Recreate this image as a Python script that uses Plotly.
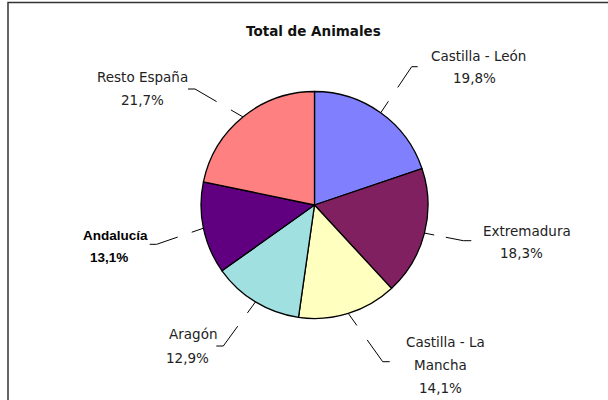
import math
import plotly.graph_objects as go

# ---- data ----
categories = ["Castilla - León", "Extremadura", "Castilla - La Mancha",
              "Aragón", "Andalucía", "Resto España"]
values = [19.8, 18.3, 14.1, 12.9, 13.1, 21.7]
label_lines = [["Castilla - León"], ["Extremadura"], ["Castilla - La", "Mancha"],
               ["Aragón"], ["Andalucía"], ["Resto España"]]
bold_flags = [False, False, False, False, True, False]
colors = ["#8080FF", "#802060", "#FFFFC0", "#A0E0E0", "#600080", "#FF8080"]
title_text = "Total de Animales"

# ---- layout (pixels) ----
W, H = 608, 400
CX, CY, R = 314.5, 205.0, 113.5
label_pos = [
    [(478.5, 56)], [(526.5, 231)], [(445, 342), (440, 365)],
    [(192.5, 334)], [(115, 235)], [(142.7, 77)],
]
pct_pos = [(474, 78), (521.5, 253), (440, 388), (187.5, 358), (109, 257), (142.5, 100.5)]
bend_pos = [(411.7, 66.7), (463.3, 240.7), (382.7, 361.7),
            (223.3, 346), (156.7, 244.3), (195, 89)]
tail_dx = [6, 8, 7, -7, -7, -7]

def px(x):
    return x / W

def py(y):
    return 1 - y / H

fig = go.Figure(go.Pie(
    labels=categories, values=values, sort=False, direction="clockwise",
    rotation=0, marker=dict(colors=colors, line=dict(color="black", width=1.3)),
    textinfo="none", hoverinfo="label+percent", showlegend=False,
    domain=dict(x=[px(CX - R), px(CX + R)], y=[py(CY + R), py(CY - R)]),
))

shapes = []
annotations = []
total = sum(values)
cum = 0.0
for i, v in enumerate(values):
    mid = (cum + v / 2) / total * 2 * math.pi
    cum += v
    ex = CX + R * math.sin(mid)
    ey = CY - R * math.cos(mid)
    bx, by = bend_pos[i]
    def lerp(t):
        return ex + (bx - ex) * t, ey + (by - ey) * t
    a0, a1 = lerp(0.0), lerp(0.25)
    b0, b1 = lerp(0.55), lerp(1.0)
    for (p0, p1) in [(a0, a1), (b0, b1), ((bx, by), (bx + tail_dx[i], by))]:
        shapes.append(dict(type="line", xref="paper", yref="paper",
                           x0=px(p0[0]), y0=py(p0[1]), x1=px(p1[0]), y1=py(p1[1]),
                           line=dict(color="black", width=1)))
    pct = f"{v:.1f}".replace(".", ",") + "%"
    if bold_flags[i]:
        fnt = dict(family="Liberation Sans", size=13.5, color="black")
        texts = [f"<b>{t}</b>" for t in label_lines[i]] + [f"<b>{pct}</b>"]
    else:
        fnt = dict(family="DejaVu Sans", size=13.5, color="#222222")
        texts = label_lines[i] + [pct]
    poss = label_pos[i] + [pct_pos[i]]
    for t, (x, y) in zip(texts, poss):
        annotations.append(dict(text=t, x=px(x), y=py(y), xref="paper", yref="paper",
                                showarrow=False, xanchor="center", yanchor="middle",
                                font=fnt))

annotations.append(dict(text=f"<b>{title_text}</b>", x=px(313), y=py(31),
                        xref="paper", yref="paper", showarrow=False,
                        xanchor="center", yanchor="middle",
                        font=dict(family="DejaVu Sans", size=13.5, color="#111111")))

# outer frame (top and left visible)
shapes.append(dict(type="rect", xref="paper", yref="paper",
                   x0=px(8), y0=-0.2, x1=1.2, y1=py(2.5),
                   line=dict(color="#333333", width=1.5)))

fig.update_layout(width=W, height=H, margin=dict(l=0, r=0, t=0, b=0),
                  paper_bgcolor="white", plot_bgcolor="white",
                  shapes=shapes, annotations=annotations)
fig.write_html("out.html", config={"displayModeBar": False},
               post_script="document.body.style.margin='0px';document.body.style.overflow='hidden';")
